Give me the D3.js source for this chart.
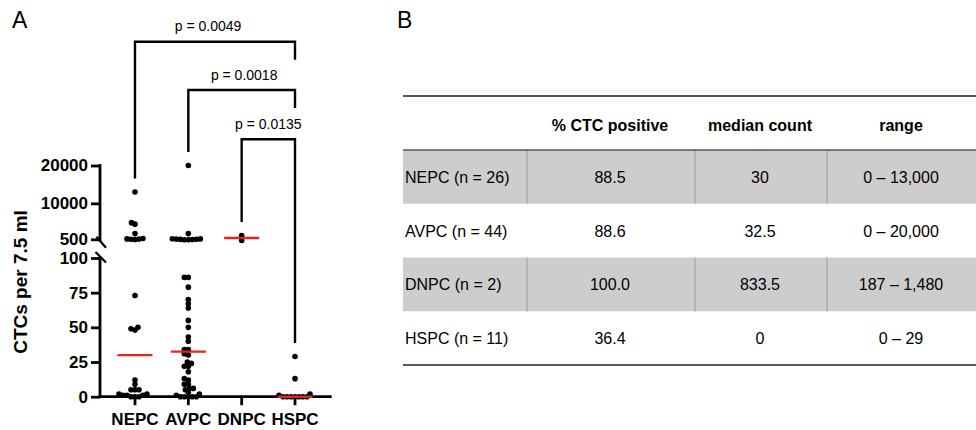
<!DOCTYPE html>
<html>
<head>
<meta charset="utf-8">
<script src="https://cdn.jsdelivr.net/npm/d3@7/dist/d3.min.js"></script>
<style>
  body { margin: 0; background: #fff; }
  svg { display: block; font-family: "Liberation Sans", Arial, Helvetica, sans-serif; }
</style>
</head>
<body>
<svg id="chart" width="976" height="430"></svg>
<script>
// ---------- data ----------
const categories = ["NEPC", "AVPC", "DNPC", "HSPC"];
const nepcValues = [13000, 4900, 4500, 2000, 700, 600, 550, 500, 450,
  73, 50, 49, 48, 12, 9, 5, 5, 5, 2, 2, 1, 1, 1, 0, 0, 0];
const avpcValues = [20000, 2000, 650, 600, 550, 500, 480, 450, 400, 350,
  86, 86, 79, 70, 67, 64, 55, 50, 43, 40, 34, 34, 31, 30, 25, 24, 22, 22, 18,
  13, 12, 9, 9, 6, 6, 5, 3, 2, 1, 0, 0, 0, 0, 0];
const dnpcValues = [1480, 187];
const hspcValues = [29, 13, 2, 1, 0, 0, 0, 0, 0, 0, 0];
const groupValues = [nepcValues, avpcValues, dnpcValues, hspcValues];

const lowTicks = [0, 25, 50, 75, 100];
const highTicks = [500, 10000, 20000];

const comparisons = [
  { a: "NEPC", b: "HSPC", label: "p = 0.0049" },
  { a: "AVPC", b: "HSPC", label: "p = 0.0018" },
  { a: "DNPC", b: "HSPC", label: "p = 0.0135" }
];

const tableHeader = ["", "% CTC positive", "median count", "range"];
const rowLabels = ["NEPC (n = 26)", "AVPC (n = 44)", "DNPC (n = 2)", "HSPC (n = 11)"];
const pctPositive = ["88.5", "88.6", "100.0", "36.4"];
const medianCount = ["30", "32.5", "833.5", "0"];
const rangeText = ["0 – 13,000", "0 – 20,000", "187 – 1,480", "0 – 29"];

// ---------- chart ----------
const svg = d3.select("#chart");
const BLACK = "#000";
const RED = "#e3241d";

const x = d3.scalePoint().domain(categories).range([100, 330]).padding(0.656);
const yLow = d3.scaleLinear().domain([0, 100]).range([396.7, 258]);
const yHigh = d3.scaleLinear().domain([500, 20000]).range([239.3, 165.5]);
const y = v => (v <= 100 ? yLow(v) : yHigh(v));

// panel labels
svg.append("text").attr("x", 12).attr("y", 28).attr("font-size", 23).text("A");
svg.append("text").attr("x", 397).attr("y", 28).attr("font-size", 23).text("B");

// y axes (ticks + labels via d3 axes)
function styleAxis(g) {
  g.select(".domain").remove();
  g.selectAll(".tick line").attr("stroke", BLACK).attr("stroke-width", 2.8);
  g.selectAll(".tick text").attr("font-size", 17).attr("font-weight", "bold")
    .attr("fill", BLACK).attr("font-family", "Liberation Sans, Arial, sans-serif");
}
svg.append("g").attr("transform", "translate(100,0)")
  .call(d3.axisLeft(yLow).tickValues(lowTicks).tickSize(9).tickPadding(3).tickFormat(d3.format("d")))
  .call(styleAxis);
svg.append("g").attr("transform", "translate(100,0)")
  .call(d3.axisLeft(yHigh).tickValues(highTicks).tickSize(9).tickPadding(3).tickFormat(d3.format("d")))
  .call(styleAxis);

const axisG = svg.append("g").attr("stroke", BLACK).attr("stroke-width", 2.8).attr("fill", "none");
// upper segment
axisG.append("line").attr("x1", 100).attr("x2", 100)
  .attr("y1", yHigh(20000) - 1.4).attr("y2", yHigh(500) + 2);
// lower segment
axisG.append("line").attr("x1", 100).attr("x2", 100)
  .attr("y1", yLow(100) - 0.5).attr("y2", yLow(0) + 1.4);
// break marks
axisG.append("line").attr("x1", 96.5).attr("y1", yHigh(500) - 2.5)
  .attr("x2", 106).attr("y2", yHigh(500) + 8.5).attr("stroke-width", 2.2);
axisG.append("line").attr("x1", 95.5).attr("y1", yLow(100) - 6)
  .attr("x2", 106).attr("y2", yLow(100) + 4.5).attr("stroke-width", 2.2);
// x axis
axisG.append("line").attr("x1", 98.6).attr("x2", 331.7)
  .attr("y1", yLow(0)).attr("y2", yLow(0));
categories.forEach(c => {
  axisG.append("line").attr("x1", x(c)).attr("x2", x(c))
    .attr("y1", yLow(0)).attr("y2", yLow(0) + 8.5);
});
svg.selectAll(".cat").data(categories).enter().append("text")
  .attr("x", d => x(d)).attr("y", 425).attr("text-anchor", "middle")
  .attr("font-size", 17).attr("font-weight", "bold").text(d => d);

// y title
svg.append("text").attr("transform", "translate(27,282) rotate(-90)")
  .attr("text-anchor", "middle").attr("font-size", 19).attr("font-weight", "bold")
  .text("CTCs per 7.5 ml");

// beeswarm
const R = 2.8, D = 3.8;
function swarm(values, cx) {
  const pts = values.map(v => ({ v, py: y(v) })).sort((a, b) => b.py - a.py);
  const placed = [];
  pts.forEach(p => {
    let best = 0;
    for (let k = 0; k < 400; k++) {
      const off = (k % 2 === 0 ? 1 : -1) * Math.ceil(k / 2) * 0.5;
      const ok = placed.every(q => {
        const dx = q.dx - off, dy = q.py - p.py;
        return dx * dx + dy * dy >= D * D;
      });
      if (ok) { best = off; break; }
    }
    p.dx = best;
    placed.push(p);
  });
  return placed.map(p => ({ x: cx + p.dx, y: p.py }));
}

const dotsG = svg.append("g");
groupValues.forEach((vals, i) => {
  const cx = x(categories[i]);
  dotsG.selectAll(null).data(swarm(vals, cx)).enter().append("circle")
    .attr("cx", d => d.x).attr("cy", d => d.y).attr("r", R).attr("fill", BLACK);
});

// medians
groupValues.forEach((vals, i) => {
  const m = d3.median(vals);
  const cx = x(categories[i]);
  svg.append("line").attr("x1", cx - 17.5).attr("x2", cx + 17.5)
    .attr("y1", y(m)).attr("y2", y(m)).attr("stroke", RED).attr("stroke-width", 2.4);
});

// significance brackets
const bracketY = [41.7, 90, 139.3];
const labelDx = [-7, 2.5, 0];
const maxOf = c => d3.max(groupValues[categories.indexOf(c)]);
const brG = svg.append("g");
comparisons.forEach((cmp, i) => {
  const by = bracketY[i];
  const x1 = x(cmp.a), x2 = x(cmp.b);
  const legEnd = (c) => {
    const below = comparisons.some((o, j) => j > i && (o.a === c || o.b === c));
    return below ? by + 18 : y(maxOf(c)) - 13.5;
  };
  brG.append("path")
    .attr("d", `M${x1},${legEnd(cmp.a)}V${by}H${x2}V${legEnd(cmp.b)}`)
    .attr("fill", "none").attr("stroke", BLACK).attr("stroke-width", 2.4);
  brG.append("text").attr("x", (x1 + x2) / 2 + labelDx[i]).attr("y", by - 10.5)
    .attr("text-anchor", "middle").attr("font-size", 14).text(cmp.label);
});

// ---------- table ----------
const tX0 = 403, tX1 = 976;
const colSep = [527, 695, 827];
const colCenter = [null, 610, 760, 901];
const rowTop = 150, rowH = 53.75;
const FS = 16;
const tG = svg.append("g");
tG.append("line").attr("x1", tX0).attr("x2", tX1).attr("y1", 96).attr("y2", 96)
  .attr("stroke", "#222").attr("stroke-width", 1.4);
tableHeader.forEach((h, j) => {
  if (!h) return;
  tG.append("text").attr("x", colCenter[j]).attr("y", 131).attr("text-anchor", "middle")
    .attr("font-size", FS).attr("font-weight", "bold").text(h);
});
rowLabels.forEach((lab, i) => {
  const top = rowTop + i * rowH;
  if (i % 2 === 0) {
    tG.append("rect").attr("x", tX0).attr("y", top).attr("width", tX1 - tX0).attr("height", rowH)
      .attr("fill", "#cdcdcd");
    colSep.forEach(cx => tG.append("line").attr("x1", cx).attr("x2", cx)
      .attr("y1", top).attr("y2", top + rowH).attr("stroke", "#9a9a9a").attr("stroke-width", 1));
  }
  const ty = top + rowH / 2 + 6;
  tG.append("text").attr("x", 405).attr("y", ty).attr("font-size", FS).text(lab);
  [pctPositive[i], medianCount[i], rangeText[i]].forEach((v, j) => {
    tG.append("text").attr("x", colCenter[j + 1]).attr("y", ty).attr("text-anchor", "middle")
      .attr("font-size", FS).text(v);
  });
});
tG.append("line").attr("x1", tX0).attr("x2", tX1).attr("y1", rowTop).attr("y2", rowTop)
  .attr("stroke", "#555").attr("stroke-width", 1.4);
tG.append("line").attr("x1", tX0).attr("x2", tX1).attr("y1", rowTop + 4 * rowH).attr("y2", rowTop + 4 * rowH)
  .attr("stroke", "#222").attr("stroke-width", 1.4);
</script>
</body>
</html>
